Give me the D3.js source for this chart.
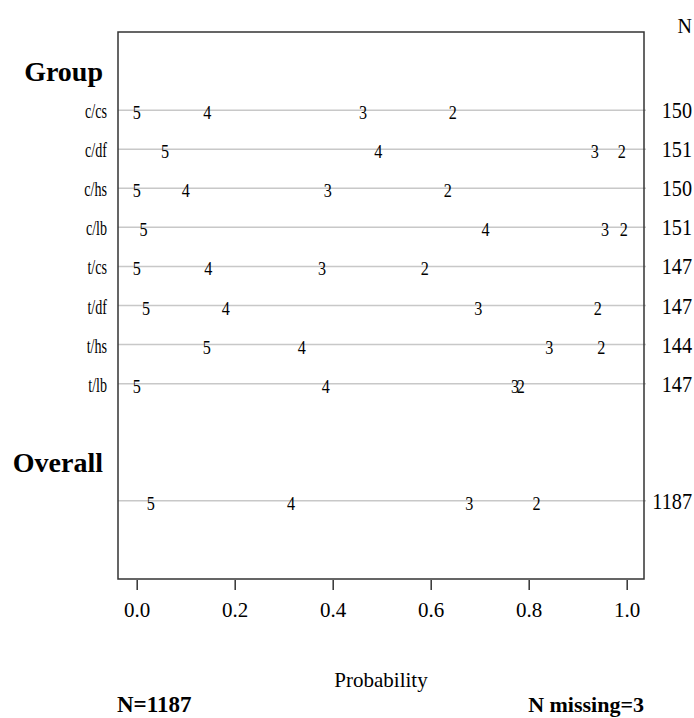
<!DOCTYPE html>
<html>
<head>
<meta charset="utf-8">
<script src="https://cdn.jsdelivr.net/npm/d3@7"></script>
<style>
  body { margin: 0; background: #fff; }
  text { font-family: "Liberation Serif", "Times New Roman", serif; fill: #000; }
</style>
</head>
<body>
<div class="chart"></div>
<script>
// rows: 8 groups, then the overall row
const groups  = ['c/cs', 'c/df', 'c/hs', 'c/lb', 't/cs', 't/df', 't/hs', 't/lb'];
const groupN  = [150, 151, 150, 151, 147, 147, 144, 147];
const overallN = 1187;

// probability positions of the symbols 5,4,3,2 per row (last entry = Overall)
const prob5 = [0.000, 0.058, 0.000, 0.014, 0.000, 0.019, 0.143, 0.000, 0.029];
const prob4 = [0.144, 0.493, 0.100, 0.712, 0.146, 0.182, 0.337, 0.386, 0.315];
const prob3 = [0.462, 0.935, 0.390, 0.956, 0.378, 0.697, 0.842, 0.772, 0.679];
const prob2 = [0.645, 0.990, 0.635, 0.994, 0.588, 0.941, 0.948, 0.784, 0.816];
const symbols = ['5', '4', '3', '2'];

const xTicks = [0, 0.2, 0.4, 0.6, 0.8, 1.0];

const width = 694, height = 718;
const box = {left: 118, right: 644, top: 32, bottom: 579};

const svg = d3.select('.chart').append('svg')
  .attr('width', width)
  .attr('height', height);

const xScale = d3.scaleLinear().domain([0, 1]).range([136.7, 626.7]);
// slot -1 .. 13 -> box; 0 = Group header, 1..8 groups, 10 = Overall header, 11 = overall row
const yScale = d3.scaleLinear().domain([-1, 13]).range([box.top, box.bottom]);

const rows = groups.map(function(g, i) {
  return {label: g, n: groupN[i], slot: i + 1, idx: i};
});
rows.push({label: '', n: overallN, slot: 11, idx: groups.length});

// narrow (horizontally squeezed) text like the original device font
function squeeze(sel, x, y, sx) {
  sel.attr('transform', (d, i) => 'translate(' + x(d, i) + ',' + y(d, i) + ') scale(' + sx + ',1)');
}

// reference lines
svg.selectAll('.ref')
  .data(rows)
  .enter().append('line')
  .attr('class', 'ref')
  .attr('x1', box.left).attr('x2', box.right + 2)
  .attr('y1', d => yScale(d.slot)).attr('y2', d => yScale(d.slot))
  .attr('stroke', '#c8c8c8').attr('stroke-width', 1.5);

// box
svg.append('rect')
  .attr('x', box.left).attr('y', box.top)
  .attr('width', box.right - box.left).attr('height', box.bottom - box.top)
  .attr('fill', 'none').attr('stroke', '#333').attr('stroke-width', 1.5);

// symbols
const probs = [prob5, prob4, prob3, prob2];
const pts = [];
rows.forEach(function(r) {
  probs.forEach(function(arr, k) {
    pts.push({x: arr[r.idx], slot: r.slot, s: symbols[k]});
  });
});
svg.selectAll('.sym')
  .data(pts)
  .enter().append('text')
  .attr('class', 'sym')
  .call(squeeze, d => xScale(d.x), d => yScale(d.slot) + 9, 0.85)
  .attr('text-anchor', 'middle')
  .style('font-size', '19px')
  .text(d => d.s);

// row labels
svg.selectAll('.rowlab')
  .data(rows.filter(d => d.label))
  .enter().append('text')
  .attr('class', 'rowlab')
  .call(squeeze, () => 107, d => yScale(d.slot) + 8, 0.64)
  .attr('text-anchor', 'end')
  .style('font-size', '22px')
  .text(d => d.label);

// N column
svg.selectAll('.nlab')
  .data(rows)
  .enter().append('text')
  .attr('class', 'nlab')
  .call(squeeze, () => 692, d => yScale(d.slot) + 8, 0.88)
  .attr('text-anchor', 'end')
  .style('font-size', '23px')
  .text(d => d.n);

svg.append('text')
  .attr('x', 692).attr('y', 33)
  .attr('text-anchor', 'end')
  .style('font-size', '20px')
  .text('N');

// headers
svg.append('text')
  .attr('x', 103).attr('y', yScale(0) + 10)
  .attr('text-anchor', 'end')
  .style('font-size', '28px').style('font-weight', 'bold')
  .text('Group');
svg.append('text')
  .attr('x', 103).attr('y', yScale(10) + 10)
  .attr('text-anchor', 'end')
  .style('font-size', '28px').style('font-weight', 'bold')
  .text('Overall');

// x axis
const xAxis = d3.axisBottom(xScale)
  .tickValues(xTicks)
  .tickFormat(d3.format('.1f'))
  .tickSize(10)
  .tickPadding(12);
const gx = svg.append('g')
  .attr('transform', 'translate(0,' + (box.bottom + 1) + ')')
  .call(xAxis);
gx.select('.domain').remove();
gx.selectAll('.tick line').attr('stroke', '#333').attr('stroke-width', 1.5);
gx.selectAll('.tick text')
  .style('font-family', '"Liberation Serif", serif')
  .style('font-size', '21px');

svg.append('text')
  .attr('x', (box.left + box.right) / 2).attr('y', 687)
  .attr('text-anchor', 'middle')
  .style('font-size', '21px')
  .text('Probability');

svg.append('text')
  .attr('x', box.left - 1).attr('y', 712)
  .style('font-size', '23px').style('font-weight', 'bold')
  .text('N=1187');
svg.append('text')
  .attr('x', box.right).attr('y', 712)
  .attr('text-anchor', 'end')
  .style('font-size', '22px').style('font-weight', 'bold')
  .text('N missing=3');
</script>
</body>
</html>
